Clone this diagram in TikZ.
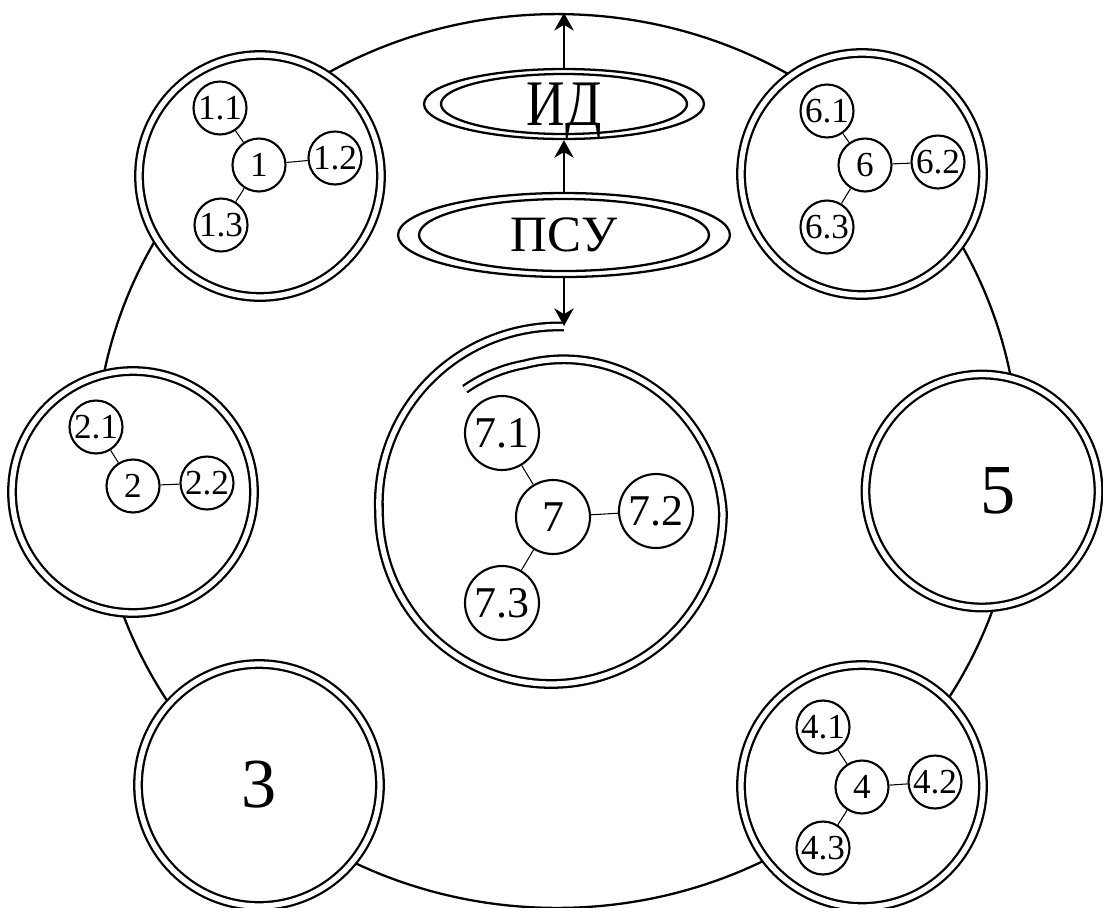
\documentclass[tikz,border=0pt]{standalone}
\usepackage{fontspec}
\setmainfont{Liberation Serif}
\newfontfamily\narrowserif[FakeStretch=0.82]{Liberation Serif}
\usetikzlibrary{arrows.meta,shapes.geometric}

\begin{document}
\begin{tikzpicture}[
      x=0.02cm, y=-0.02cm,
      every node/.style={
        align=center
      },
      >={Stealth[length=10pt,width=11pt]},
      ring/.style={ellipse, draw, line width=1.3pt, inner sep=0pt,
        minimum width=18.48cm, minimum height=17.88cm},
      sat/.style={circle, draw, double, double distance=3pt, line width=1.3pt,
        fill=white, inner sep=0pt, minimum size=4.84cm},
      sub/.style={circle, draw, line width=1.2pt, fill=white, inner sep=0pt,
        minimum size=1.06cm, font=\fontsize{20}{22}\selectfont},
      bigsub/.style={sub, minimum size=1.48cm, font=\fontsize{25}{27}\selectfont},
      bignum/.style={font=\fontsize{40}{44}\selectfont},
      oval/.style={ellipse, draw, line width=1.3pt, fill=white, inner sep=0pt,
        text depth=0pt},
      link/.style={line width=0.6pt},
      arr/.style={->, line width=1.5pt},
      twoline/.style={draw, double, double distance=3pt, line width=1.3pt},
      declare function={spr(\s)=(\s<180)*(172+14*(180-\s)/94)+(\s>=180)*172
        -(\s>360)*22*min(1,(\s-360)/100);}
    ]
    \useasboundingbox (0,0) rectangle (1103,907);

    % Outer ring
    \node[ring] (ring) at (557,461) {};

    % Satellites
    \node[sat] (sat1) at (260,176) {};
    \node[sat] (sat6) at (862,174) {};
    \node[sat] (sat2) at (133,492) {};
    \node[sat, minimum size=4.66cm, bignum] (sat5) at (982,491) {\hspace*{18pt}5};
    \node[sat, bignum] (sat3) at (259,785) {3};
    \node[sat] (sat4) at (862,786) {};

    % Satellite 1
    \node[sub] (n1) at (259,165) {1};
    \node[sub] (n11) at ([shift={(-39,-57)}]n1) {1.1};
    \node[sub] (n12) at ([shift={(76,-7)}]n1) {1.2};
    \node[sub] (n13) at ([shift={(-38,60)}]n1) {1.3};
    \draw[link] (n1) -- (n11);
    \draw[link] (n1) -- (n12);
    \draw[link] (n1) -- (n13);

    % Satellite 6
    \node[sub] (n6) at (865,165) {6};
    \node[sub] (n61) at ([shift={(-38,-54)}]n6) {6.1};
    \node[sub] (n62) at ([shift={(73,-3)}]n6) {6.2};
    \node[sub] (n63) at ([shift={(-38,62)}]n6) {6.3};
    \draw[link] (n6) -- (n61);
    \draw[link] (n6) -- (n62);
    \draw[link] (n6) -- (n63);

    % Satellite 2
    \node[sub] (n2) at (133,486) {2};
    \node[sub] (n21) at ([shift={(-37,-59)}]n2) {2.1};
    \node[sub] (n22) at ([shift={(74,-3)}]n2) {2.2};
    \draw[link] (n2) -- (n21);
    \draw[link] (n2) -- (n22);

    % Satellite 4
    \node[sub] (n4) at (862,787) {4};
    \node[sub] (n41) at ([shift={(-39,-60)}]n4) {4.1};
    \node[sub] (n42) at ([shift={(73,-5)}]n4) {4.2};
    \node[sub] (n43) at ([shift={(-39,61)}]n4) {4.3};
    \draw[link] (n4) -- (n41);
    \draw[link] (n4) -- (n42);
    \draw[link] (n4) -- (n43);

    % Centre
    \node[oval, minimum width=5.6cm, minimum height=1.4cm, text height=24.4pt,
      font=\narrowserif\fontsize{37}{40}\selectfont] (id) at (564,104) {ИД};
    \draw[line width=1.3pt] (id.center) ellipse [x radius=123, y radius=30];
    \node[oval, minimum width=6.64cm, minimum height=1.68cm, text height=19.2pt,
      font=\fontsize{29}{32}\selectfont] (psu) at (564,235) {ПСУ};
    \draw[line width=1.3pt] (psu.center) ellipse [x radius=145, y radius=36];
    \coordinate (spin) at (564,326);
    \draw[twoline] plot[domain=86:485, samples=160, variable=\a]
      ({551+spr(\a)*cos(\a)}, {512-spr(\a)*sin(\a)});

    \node[bigsub] (n7) at (553,517) {7};
    \node[bigsub] (n71) at ([shift={(-51,-84)}]n7) {7.1};
    \node[bigsub] (n72) at ([shift={(103,-6)}]n7) {7.2};
    \node[bigsub] (n73) at ([shift={(-51,86)}]n7) {7.3};
    \draw[link] (n7) -- (n71);
    \draw[link] (n7) -- (n72);
    \draw[link] (n7) -- (n73);

    % Arrows
    \draw[arr] (psu) -- (spin);
    \draw[arr] (psu) -- (id);
    \draw[arr] (id) -- (id |- ring.north);
  \end{tikzpicture}
\end{document}
